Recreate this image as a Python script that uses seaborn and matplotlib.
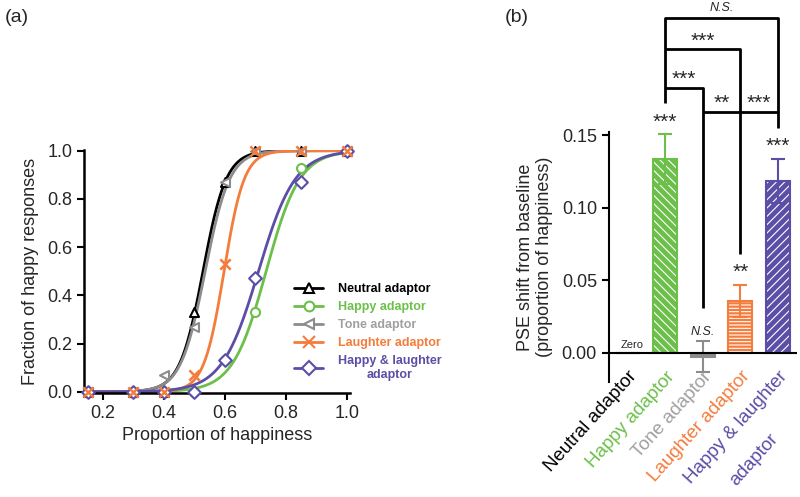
import numpy as np
import pandas as pd
import matplotlib
matplotlib.use('Agg')
import matplotlib.pyplot as plt
from matplotlib.lines import Line2D
from matplotlib.patches import Rectangle
from matplotlib.ticker import FormatStrFormatter
from matplotlib.transforms import ScaledTranslation
import seaborn as sns

# ---- panel (a): psychometric data ----
levels = [0.15, 0.3, 0.4, 0.5, 0.6, 0.7, 0.85, 1.0]
neutral = [0.0, 0.0, 0.0, 0.33, 0.87, 1.0, 1.0, 1.0]
happy = [0.0, 0.0, 0.0, 0.0, 0.13, 0.33, 0.93, 1.0]
tone = [0.0, 0.0, 0.07, 0.27, 0.87, 1.0, 1.0, 1.0]
laughter = [0.0, 0.0, 0.0, 0.07, 0.53, 1.0, 1.0, 1.0]
happy_laughter = [0.0, 0.0, 0.0, 0.0, 0.13, 0.47, 0.87, 1.0]

legend_labels = ['Neutral adaptor', 'Happy adaptor', 'Tone adaptor',
                 'Laughter adaptor', 'Happy & laughter\nadaptor']
# logistic fits (PSE, spread)
fit_pse = [0.528, 0.735, 0.535, 0.597, 0.71]
fit_spread = [0.038, 0.055, 0.040, 0.033, 0.060]

# ---- panel (b): PSE shifts ----
conditions = ['Neutral adaptor', 'Happy adaptor', 'Tone adaptor',
              'Laughter adaptor', 'Happy & laughter']
last_label_line2 = 'adaptor'
pse_shift = [0.0, 0.1335, -0.0025, 0.0358, 0.1185]
pse_sem = [0.0, 0.0170, 0.0105, 0.0112, 0.0150]
bar_marks = ['', '***', 'N.S.', '**', '***']

line_colors = ['black', '#6cc04a', '#8c8c8c', '#f47c3c', '#5a4ea6']
text_colors = ['black', '#6cc04a', '#a0a0a0', '#f47c3c', '#5a4ea6']
markers = ['^', 'o', '<', 'x', 'D']

sns.set_style('ticks')
plt.rcParams['font.family'] = ['Liberation Sans', 'DejaVu Sans']
plt.rcParams['hatch.linewidth'] = 0.8

fig = plt.figure(figsize=(8, 4.97), dpi=100)

# ================= panel (a) =================
ax_a = fig.add_axes([0.105, 0.2093, 0.3325, 0.489])
series = [neutral, happy, tone, laughter, happy_laughter]
grid = np.linspace(0.15, 1.0, 300)
draw_order = [0, 2, 1, 4, 3]
for i in draw_order:
    c = line_colors[i]
    fit = 1 / (1 + np.exp(-(grid - fit_pse[i]) / fit_spread[i]))
    sns.lineplot(x=grid, y=fit, color=c, lw=2, ax=ax_a, zorder=2 + i * 0.1)
for i in draw_order:
    c = line_colors[i]
    if markers[i] == 'x':
        sns.scatterplot(x=levels, y=series[i], marker='x', color=c, s=55,
                        linewidth=1.8, ax=ax_a, zorder=4, clip_on=False)
    else:
        sns.scatterplot(x=levels, y=series[i], marker=markers[i], s=42,
                        facecolor='white', edgecolor=c, linewidth=1.5,
                        ax=ax_a, zorder=3, clip_on=False)

ax_a.set_xlim(0.1377, 1.01)
ax_a.set_ylim(-0.005, 1.003)
ax_a.set_xticks([0.2, 0.4, 0.6, 0.8, 1.0])
ax_a.set_yticks([0.0, 0.2, 0.4, 0.6, 0.8, 1.0])
ax_a.xaxis.set_major_formatter(FormatStrFormatter('%.1f'))
ax_a.yaxis.set_major_formatter(FormatStrFormatter('%.1f'))
ax_a.tick_params(labelsize=13, width=1.5, length=5, color='black')
for s in ['left', 'bottom']:
    ax_a.spines[s].set_linewidth(1.8)
    ax_a.spines[s].set_color('black')
sns.despine(ax=ax_a)
ax_a.set_xlabel('Proportion of happiness', fontsize=13, labelpad=4)
ax_a.set_ylabel('Fraction of happy responses', fontsize=13, labelpad=6)

handles = []
for i in range(5):
    c = line_colors[i]
    handles.append(Line2D([], [], color=c, lw=2, marker=markers[i],
                          markersize=7 if markers[i] != 'x' else 8,
                          markerfacecolor='white', markeredgecolor=c,
                          markeredgewidth=1.5))
leg = ax_a.legend(handles, legend_labels, frameon=False, loc='upper left',
                  bbox_to_anchor=(288 / 800, 1 - 277 / 497),
                  bbox_transform=fig.transFigure, borderpad=0,
                  handlelength=2.3, handletextpad=1.2, labelspacing=0.48,
                  prop={'size': 9, 'weight': 'bold'})
for t, c in zip(leg.get_texts(), text_colors):
    t.set_color(c)
    t.set_multialignment('center')

fig.text(17 / 800, 1 - 17 / 497, '(a)', fontsize=14, ha='center', va='center')

# ================= panel (b) =================
ax_b = fig.add_axes([0.761, 0.2314, 0.235, 0.5027])
df_b = pd.DataFrame({'condition': conditions, 'shift': pse_shift})
sns.barplot(data=df_b, x='condition', y='shift', hue='condition',
            palette=line_colors, width=0.64, saturation=1, legend=False,
            errorbar=None, ax=ax_b)
hatches = ['', '\\\\\\\\', '', '-----', '////']
for p in list(ax_b.patches):
    idx = int(round(p.get_x() + p.get_width() / 2))
    col = line_colors[idx]
    p.set_hatch(hatches[idx])
    p.set_edgecolor('white')
    p.set_linewidth(0)
    ax_b.add_patch(Rectangle((p.get_x(), p.get_y()), p.get_width(), p.get_height(),
                             fill=False, edgecolor=col, lw=1.5, zorder=2.5))

for i in range(5):
    if pse_sem[i] > 0:
        ax_b.errorbar(i, pse_shift[i], yerr=pse_sem[i], fmt='none',
                      ecolor=line_colors[i], elinewidth=1.5, capsize=4.7,
                      capthick=1.5, zorder=3)

# significance marks above bars
for i in range(5):
    if bar_marks[i] == '':
        continue
    top = pse_shift[i] + pse_sem[i]
    if bar_marks[i] == 'N.S.':
        ax_b.text(i, top + 0.0065, 'N.S.', style='italic', fontsize=9,
                  ha='center', va='center')
    else:
        ax_b.text(i, top + 0.0085, bar_marks[i], fontsize=15,
                  ha='center', va='center')

ax_b.text(0.12, 0.0055, 'Zero', fontsize=8, ha='center', va='center')

# comparison brackets
lk = dict(color='black', lw=2, clip_on=False, solid_capstyle='butt')
ax_b.plot([1, 1, 4, 4], [0.172, 0.2305, 0.2305, 0.1548], **lk)
ax_b.plot([1, 3, 3], [0.2092, 0.2092, 0.0681], **lk)
ax_b.plot([1, 2, 2], [0.1823, 0.1823, 0.031], **lk)
ax_b.plot([2, 4], [0.1658, 0.1658], **lk)
ax_b.text(2.5, 0.2375, 'N.S.', style='italic', fontsize=9, ha='center', va='center')
ax_b.text(2.0, 0.2145, '***', fontsize=15, ha='center', va='center')
ax_b.text(1.5, 0.1885, '***', fontsize=15, ha='center', va='center')
ax_b.text(2.5, 0.172, '**', fontsize=15, ha='center', va='center')
ax_b.text(3.5, 0.172, '***', fontsize=15, ha='center', va='center')

ax_b.axhline(0, color='black', lw=1.5, zorder=4)
ax_b.set_xlim(-0.5, 4.5)
ax_b.set_ylim(-0.02, 0.152)
ax_b.set_yticks([0.0, 0.05, 0.10, 0.15])
ax_b.yaxis.set_major_formatter(FormatStrFormatter('%.2f'))
ax_b.tick_params(axis='y', labelsize=13, width=1.5, length=5, color='black')
ax_b.tick_params(axis='x', labelsize=13.5, length=0, pad=-10)
ax_b.spines['left'].set_linewidth(1.5)
ax_b.spines['left'].set_color('black')
sns.despine(ax=ax_b, bottom=True)
ax_b.set_xlabel('')
ax_b.set_ylabel('PSE shift from baseline\n(proportion of happiness)', fontsize=13,
                labelpad=6)
for lbl, c in zip(ax_b.get_xticklabels(), text_colors):
    lbl.set_color(c)
    lbl.set_rotation(48)
    lbl.set_ha('right')
    lbl.set_va('top')
    lbl.set_rotation_mode('anchor')

# second line of the last category label, centred under the first line
ax_b.text(4, 0, last_label_line2, fontsize=13.5, color=text_colors[4],
          rotation=48, rotation_mode='anchor', ha='right', va='top',
          transform=ax_b.get_xaxis_transform()
          + ScaledTranslation(-0.09, -0.48, fig.dpi_scale_trans))

fig.text(517 / 800, 1 - 17 / 497, '(b)', fontsize=14, ha='center', va='center')

fig.savefig('out.png', dpi=100)
